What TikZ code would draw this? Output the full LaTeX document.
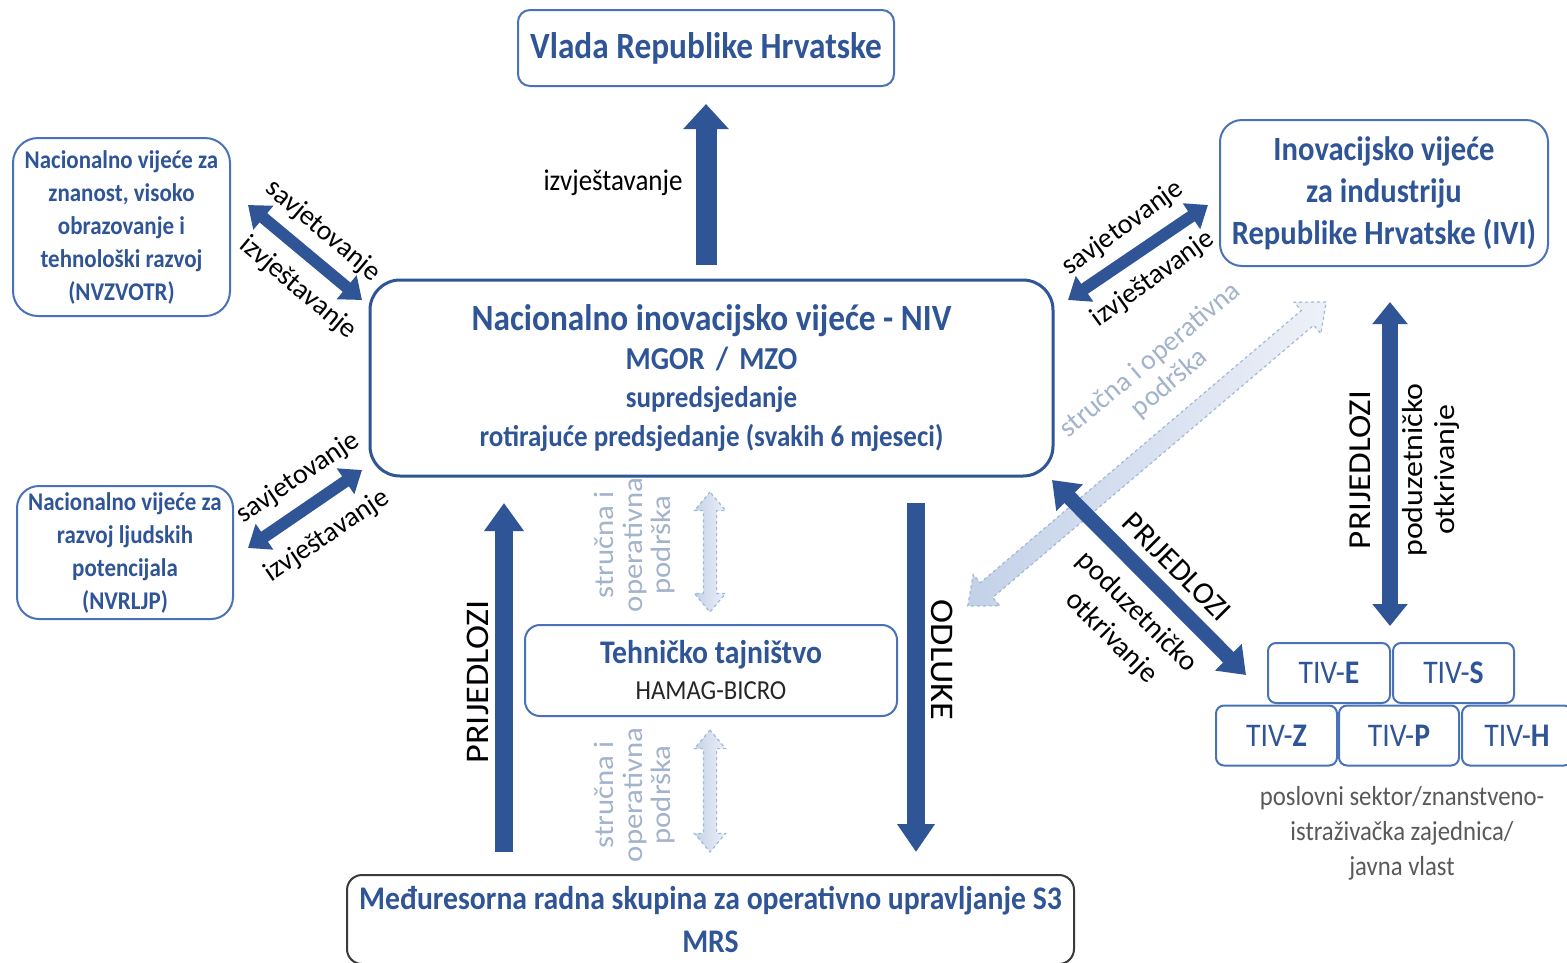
\documentclass[tikz,border=0pt]{standalone}
\usepackage{fontspec}
\setmainfont{Carlito}[FakeStretch=0.9]
\newfontfamily\vfont{Carlito}[FakeStretch=1.1]
\newfontfamily\dfont{Carlito}
\usetikzlibrary{arrows.meta,shapes.arrows}
\definecolor{dblue}{HTML}{2F5597}
\definecolor{tblue}{HTML}{2F5597}
\definecolor{bblue}{HTML}{4A72B8}
\definecolor{lfillA}{HTML}{C3D1E8}
\definecolor{lfillB}{HTML}{EDF1F8}
\definecolor{ldash}{HTML}{A3B7D9}
\definecolor{ltext}{HTML}{A3B3CB}
\definecolor{gtext}{HTML}{595959}
\definecolor{mrsline}{HTML}{3A3A3A}
\newcommand\fsz[2]{\fontsize{#1}{#2}\selectfont}
\tikzset{
  box/.style={draw=bblue, line width=2pt, inner sep=0pt, align=center, text=tblue},
  tiv/.style={draw=bblue, line width=2pt, rounded corners=8pt, inner sep=0pt, minimum width=#1, minimum height=60pt, text=tblue, font=\fsz{33}{35}},
  lbl/.style={inner sep=0pt, text=black, align=center},
  llbl/.style={inner sep=0pt, text=ltext, align=center},
  darr/.style n args={3}{draw=dblue, line width=#1pt, >={Triangle[length=#3pt,width=#2pt]}},
  lightarr/.style={double arrow, draw=ldash, dashed, line width=1.2pt, left color=lfillA, right color=lfillB, inner sep=#1, double arrow head extend=9pt, double arrow tip angle=80}
}
\begin{document}
\begin{tikzpicture}[x=1pt,y=-1pt]
\useasboundingbox (0,0) rectangle (1567,962);
\clip (0,0) rectangle (1567,962);
\fill[white] (0,0) rectangle (1567,962);

% boxes
\node[box, rounded corners=12pt, minimum width=376pt, minimum height=76pt, font=\bfseries\fsz{37}{40}] (vlada) at (706,48) {Vlada Republike Hrvatske};
\node[box, draw=dblue, line width=3pt, rounded corners=30pt, minimum width=683pt, minimum height=196pt, font=\bfseries\fsz{30}{38.5}] (niv) at (711.5,378)
  {{\fsz{37}{38.5}Nacionalno inovacijsko vijeće - NIV}\\ {\fsz{32}{38.5}MGOR\hspace{11pt}/\hspace{11pt}MZO}\\ supredsjedanje\\ rotirajuće predsjedanje (svakih 6 mjeseci)};
\node[box, rounded corners=25pt, minimum width=217pt, minimum height=178pt, font=\bfseries\fsz{25.5}{33}] (nvz) at (121.5,227)
  {Nacionalno vijeće za\\ znanost, visoko\\ obrazovanje i\\ tehnološki razvoj\\ (NVZVOTR)};
\node[box, rounded corners=22pt, minimum width=216pt, minimum height=133pt, font=\bfseries\fsz{25.5}{33}] (nvr) at (125,552.5)
  {Nacionalno vijeće za\\ razvoj ljudskih\\ potencijala\\ (NVRLJP)};
\node[box, rounded corners=22pt, minimum width=328pt, minimum height=146pt, font=\bfseries\fsz{34}{42}] (ivi) at (1384,193)
  {Inovacijsko vijeće\\ za industriju\\ Republike Hrvatske (IVI)};
\node[box, rounded corners=15pt, minimum width=372pt, minimum height=91pt, font=\bfseries\fsz{33}{36}] (tt) at (711,670.5)
  {Tehničko tajništvo\\ {\mdseries\color{black!85}\fsz{27.5}{36}HAMAG-BICRO}};
\node[box, draw=mrsline, rounded corners=15pt, minimum width=727pt, minimum height=89pt, font=\bfseries\fsz{33}{43}] (mrs) at (710.5,919.5)
  {Međuresorna radna skupina za operativno upravljanje S3\\ MRS};

% TIV boxes
\node[tiv=122pt] (tivE) at (1329,673) {TIV-\textbf{E}};
\node[tiv=121pt] (tivS) at (1453.5,673) {TIV-\textbf{S}};
\node[tiv=121pt] (tivZ) at (1276.5,735.5) {TIV-\textbf{Z}};
\node[tiv=120pt] (tivP) at (1399,735.5) {TIV-\textbf{P}};
\node[tiv=110pt] (tivH) at (1517,735.5) {TIV-\textbf{H}};
\node[inner sep=0pt, align=center, text=gtext, font=\fsz{27.5}{35}] (sect) at (1402,833)
  {poslovni sektor/znanstveno-\\ istraživačka zajednica/\\ javna vlast};

% light (support) arrows
\node[lightarr=6pt, minimum height=120pt, rotate=90] (la1) at (710,552) {};
\node[lightarr=6pt, minimum height=122pt, rotate=90] (la2) at (710,791) {};
\node[lightarr=9pt, minimum height=470pt, rotate=40.3, double arrow head extend=11pt] (la3) at (1147,454) {};
\node[llbl, rotate=90, font=\vfont\fsz{28}{28.5}] at (635,545) {stručna i\\ operativna\\ podrška};
\node[llbl, rotate=90, font=\vfont\fsz{28}{28.5}] at (635,795) {stručna i\\ operativna\\ podrška};
\node[llbl, rotate=40, font=\dfont\fsz{28}{30}] at (1160,372) {stručna i operativna\\ podrška};

% dark arrows
\draw[darr={21}{44}{25}, ->, shorten <=14pt, shorten >=17pt] (niv.north -| vlada.south) -- (vlada.south);
\node[lbl, font=\fsz{30}{34}] at (613,183) {izvještavanje};

\coordinate (ulA) at (248,205); \coordinate (ulB) at (362,300);
\draw[darr={12}{30}{20}, <->] (ulA) -- (ulB);
\node[lbl, rotate=-40, font=\dfont\fsz{28}{32}] at (323,231) {savjetovanje};
\node[lbl, rotate=-40, font=\dfont\fsz{28}{32}] at (298,288) {izvještavanje};

\coordinate (llA) at (248,548); \coordinate (llB) at (362,470);
\draw[darr={12}{30}{20}, <->] (llA) -- (llB);
\node[lbl, rotate=34, font=\dfont\fsz{28}{32}] at (298,478) {savjetovanje};
\node[lbl, rotate=34, font=\dfont\fsz{28}{32}] at (327,536) {izvještavanje};

\coordinate (urA) at (1068,300); \coordinate (urB) at (1208,205);
\draw[darr={12}{30}{20}, <->] (urA) -- (urB);
\node[lbl, rotate=36, font=\dfont\fsz{28}{32}] at (1123,228) {savjetovanje};
\node[lbl, rotate=36, font=\dfont\fsz{28}{32}] at (1153,279) {izvještavanje};

\coordinate (ntA) at (1052,480); \coordinate (ntB) at (1246,675);
\draw[darr={15}{36}{25}, <->] (ntA) -- (ntB);
\node[lbl, rotate=-45, font=\dfont\fsz{31}{34}] at (1177,567) {PRIJEDLOZI};
\node[lbl, rotate=-45, font=\dfont\fsz{29}{36}] at (1124,625) {poduzetničko\\ otkrivanje};

\coordinate (itA) at (1390,302); \coordinate (itB) at (1390,626);
\draw[darr={16}{34}{22}, <->] (itA) -- (itB);
\node[lbl, rotate=90, font=\vfont\fsz{32}{34}] at (1360,470) {PRIJEDLOZI};
\node[lbl, rotate=90, font=\vfont\fsz{29}{32}] at (1431,470) {poduzetničko\\ otkrivanje};

\coordinate (prA) at (504,852); \coordinate (prB) at (504,503);
\draw[darr={18}{38}{28}, ->] (prA) -- (prB);
\node[lbl, rotate=90, font=\vfont\fsz{33}{34}] at (478,682) {PRIJEDLOZI};

\coordinate (odA) at (916,503); \coordinate (odB) at (916,852);
\draw[darr={18}{36}{28}, ->] (odA) -- (odB);
\node[lbl, rotate=-90, font=\vfont\fsz{33}{34}] at (942,660) {ODLUKE};
\end{tikzpicture}
\end{document}
